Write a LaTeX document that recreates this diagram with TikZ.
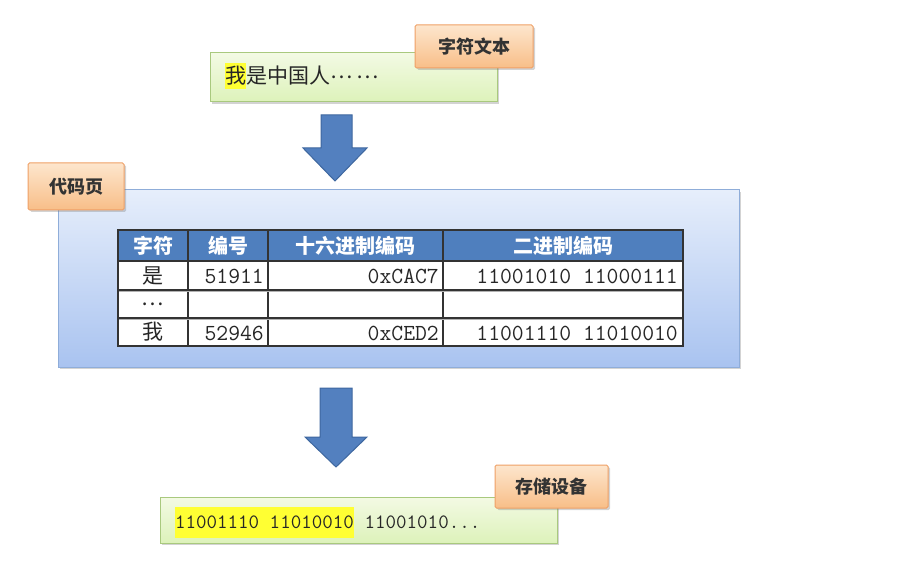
\documentclass[tikz,border=0pt]{standalone}
\usepackage{fontspec}
\newfontfamily\cjk{Noto Sans CJK SC}
\usetikzlibrary{shadows}
\definecolor{gtop}{HTML}{F3FAE4}
\definecolor{gbot}{HTML}{DDF2BA}
\definecolor{gline}{HTML}{A9C97E}
\definecolor{otop}{HTML}{FDE6CD}
\definecolor{obot}{HTML}{F8BE88}
\definecolor{oline}{HTML}{EFA066}
\definecolor{btop}{HTML}{E6EEFB}
\definecolor{bbot}{HTML}{A9C3F0}
\definecolor{bline}{HTML}{8FADD9}
\definecolor{hdr}{HTML}{4F7FBE}
\definecolor{arrfill}{HTML}{5380BF}
\definecolor{arrline}{HTML}{3E679F}
\definecolor{hl}{HTML}{FFFF33}
\tikzset{
  greenbox/.style={draw=gline, line width=1pt, top color=gtop, bottom color=gbot,
    drop shadow={shadow xshift=2pt, shadow yshift=-2pt, opacity=0.35}},
  labelbox/.style={draw=oline, line width=1pt, top color=otop, bottom color=obot, rounded corners=1.5pt,
    drop shadow={shadow xshift=2pt, shadow yshift=-2pt, opacity=0.35}},
  bluebox/.style={draw=bline, line width=1pt, top color=btop, bottom color=bbot,
    drop shadow={shadow xshift=2pt, shadow yshift=-2pt, opacity=0.35}},
  blockarrow/.style={fill=arrfill, draw=arrline, line width=1pt, line join=miter},
  labeltext/.style={font=\cjk\bfseries\fontsize{18}{20}\selectfont, text=black!80},
  hdrtext/.style={font=\cjk\bfseries\fontsize{20}{22}\selectfont, text=white},
  celltext/.style={font=\cjk\fontsize{21}{23}\selectfont, text=black!85},
  numtext/.style={font=\ttfamily\fontsize{23}{25}\selectfont, text=black!85, inner sep=0pt},
  gridline/.style={draw=black!80, line width=1.2pt},
}
\begin{document}
\begin{tikzpicture}[x=1pt,y=-1pt]
\useasboundingbox (0,0) rectangle (916,564);

% top text box
\path[greenbox] (210,53) rectangle (497,102);
\node[fill=hl, anchor=west, inner sep=0pt, minimum height=26pt, font=\cjk\fontsize{21}{23}\selectfont, text=black!85] (wo) at (225,76) {我};
\node[anchor=base west, inner sep=0pt, font=\cjk\fontsize{21}{23}\selectfont, text=black!85] (rest) at (wo.base east) {是中国人\raisebox{5pt}{…\,…}};
\path[labelbox] (415,25) rectangle (533,68);
\node[labeltext] (lab1) at (474,47) {字符文本};

% arrow 1
\path[blockarrow] (321,115) -- (352,115) -- (352,148) -- (367,148) -- (335,181) -- (303,148) -- (321,148) -- cycle;

% blue code page box
\path[bluebox] (58,190) rectangle (739,367);
\path[labelbox] (28,163) rectangle (124,210);
\node[labeltext] (lab2) at (76,187) {代码页};

% table
\fill[hdr] (118,230) rectangle (683,261);
\fill[white] (118,261) rectangle (683,346);
\draw[gridline] (118,230) rectangle (683,346);
\draw[gridline] (118,261) -- (683,261);
\draw[gridline] (118,290) -- (683,290);
\draw[gridline] (118,318) -- (683,318);
\draw[gridline] (188,230) -- (188,346);
\draw[gridline] (268,230) -- (268,346);
\draw[gridline] (443,230) -- (443,346);
\draw[line width=0.5pt, draw=white!70!black] (119,291.5) -- (682,291.5);
\draw[line width=0.5pt, draw=white!70!black] (119,319.5) -- (682,319.5);

\node[hdrtext] (h1) at (153,246) {字符};
\node[hdrtext] (h2) at (228,246) {编号};
\node[hdrtext] (h3) at (355.5,246) {十六进制编码};
\node[hdrtext] (h4) at (563,246) {二进制编码};

\node[celltext] (c11) at (153,275.5) {是};
\node[numtext, anchor=east] (c12) at (264,276) {51911};
\node[numtext, anchor=east] (c13) at (439,276) {0xCAC7};
\node[numtext, anchor=east] (c14) at (678,276) {11001010 11000111};

\node[celltext] (c21) at (153,304) {…};

\node[celltext] (c31) at (153,332) {我};
\node[numtext, anchor=east] (c32) at (264,333) {52946};
\node[numtext, anchor=east] (c33) at (439,333) {0xCED2};
\node[numtext, anchor=east] (c34) at (678,333) {11001110 11010010};

% arrow 2
\path[blockarrow] (320,388) -- (352,388) -- (352,437) -- (367,437) -- (336,467) -- (305,437) -- (320,437) -- cycle;

% bottom storage box
\path[greenbox] (160,497) rectangle (557,543);
\node[fill=hl, anchor=west, inner xsep=0pt, inner ysep=0pt, minimum height=31pt,
  font=\ttfamily\fontsize{20.4}{22}\selectfont, text=black!85] (bits) at (175,522) {11001110 11010010};
\node[anchor=base west, inner sep=0pt, font=\ttfamily\fontsize{20.4}{22}\selectfont, text=black!85] (more) at (bits.base east) {\ 11001010...};
\path[labelbox] (495,465) rectangle (608,508);
\node[labeltext] (lab3) at (551.5,487) {存储设备};
\end{tikzpicture}
\end{document}
